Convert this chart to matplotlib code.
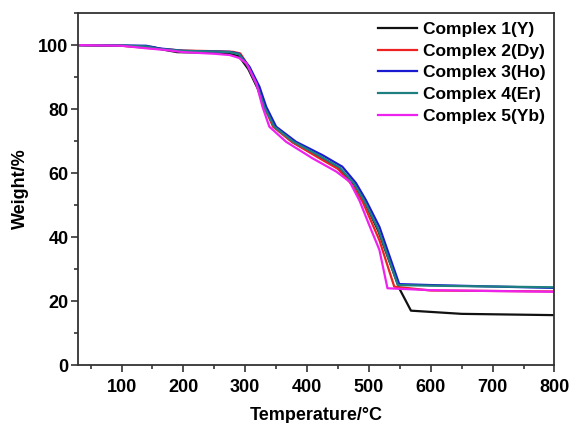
import matplotlib
matplotlib.use("Agg")
import matplotlib.pyplot as plt
from matplotlib.ticker import MultipleLocator

# TGA curves
t1 = [30, 100, 150, 170, 190, 250, 275, 290, 305, 320, 331, 347, 378, 420, 453, 476, 493, 515, 549, 568, 650, 800]
w1 = [100, 99.8, 99.4, 98.5, 97.8, 97.6, 97.3, 96.5, 92.5, 86.5, 80.5, 74.5, 69.5, 65, 61.2, 56.5, 51, 42, 24, 17, 16, 15.6]

t2 = [30, 100, 150, 170, 200, 250, 280, 292, 305, 320, 331, 345, 375, 415, 450, 472, 490, 517, 541, 600, 800]
w2 = [100, 99.8, 99, 98.7, 98.3, 98.1, 97.9, 97.4, 93.5, 87, 80.7, 74.5, 69.8, 65.2, 61.3, 56.5, 51, 39, 24.5, 23.3, 23]

t3 = [30, 100, 140, 160, 200, 250, 275, 290, 307, 323, 334, 350, 382, 425, 457, 479, 495, 517, 549, 600, 800]
w3 = [100, 99.9, 99.8, 99, 98.2, 98, 97.9, 97.3, 93.2, 87, 80.7, 74.5, 69.8, 65.6, 62, 56.9, 51.6, 43.2, 25.3, 25, 24.1]

t4 = [30, 100, 140, 160, 200, 250, 275, 290, 305, 320, 331, 347, 378, 420, 453, 476, 493, 515, 547, 600, 800]
w4 = [100, 99.9, 99.6, 98.8, 98.2, 98, 97.8, 97.2, 93.2, 87, 80.7, 74.5, 69.8, 65.4, 61.7, 56.7, 51.2, 42.5, 25, 24.8, 24.3]

t5 = [30, 100, 140, 170, 200, 250, 275, 290, 302, 318, 328, 339, 366, 409, 447, 469, 485, 500, 517, 530, 600, 800]
w5 = [100, 99.8, 99, 98.5, 97.8, 97.3, 96.9, 96, 94.3, 88, 80.7, 74.5, 69.8, 64.6, 60.5, 57.3, 51.3, 44, 36, 24, 23.4, 22.9]

labels = ["Complex 1(Y)", "Complex 2(Dy)", "Complex 3(Ho)", "Complex 4(Er)", "Complex 5(Yb)"]
colors = ["#111111", "#ee2222", "#1a1ad0", "#1f7f80", "#ee22ee"]

plt.rcParams['font.family'] = ['Liberation Sans', 'DejaVu Sans']
plt.rcParams['font.weight'] = 'bold'

fig = plt.figure(figsize=(5.71, 4.23), dpi=100)
ax = fig.add_axes([0.137, 0.137, 0.834, 0.832])

for t, w, lab, c in zip([t1, t2, t3, t4, t5], [w1, w2, w3, w4, w5], labels, colors):
    ax.plot(t, w, color=c, lw=1.6, label=lab)

ax.set_xlim(30, 800)
ax.set_ylim(0, 110)
ax.xaxis.set_major_locator(MultipleLocator(100))
ax.xaxis.set_minor_locator(MultipleLocator(50))
ax.yaxis.set_major_locator(MultipleLocator(20))
ax.yaxis.set_minor_locator(MultipleLocator(10))
ax.tick_params(which='both', direction='out', labelsize=13, width=1.2, color='#333333')
ax.tick_params(which='major', length=5)
ax.tick_params(which='minor', length=3)
ax.tick_params(axis='x', pad=5)
ax.tick_params(axis='y', pad=2)
for s in ax.spines.values():
    s.set_linewidth(1.3)
    s.set_color('#333333')

ax.set_xlabel("Temperature/\u00b0C", fontsize=13, fontweight='bold', labelpad=8)
ax.set_ylabel("Weight/%", fontsize=13, fontweight='bold', labelpad=7)

ax.legend(loc='upper right', frameon=False, fontsize=12.5, handlelength=2.25,
          handletextpad=0.35, labelspacing=0.38, borderaxespad=0.1)

fig.savefig("out.png", dpi=100)
